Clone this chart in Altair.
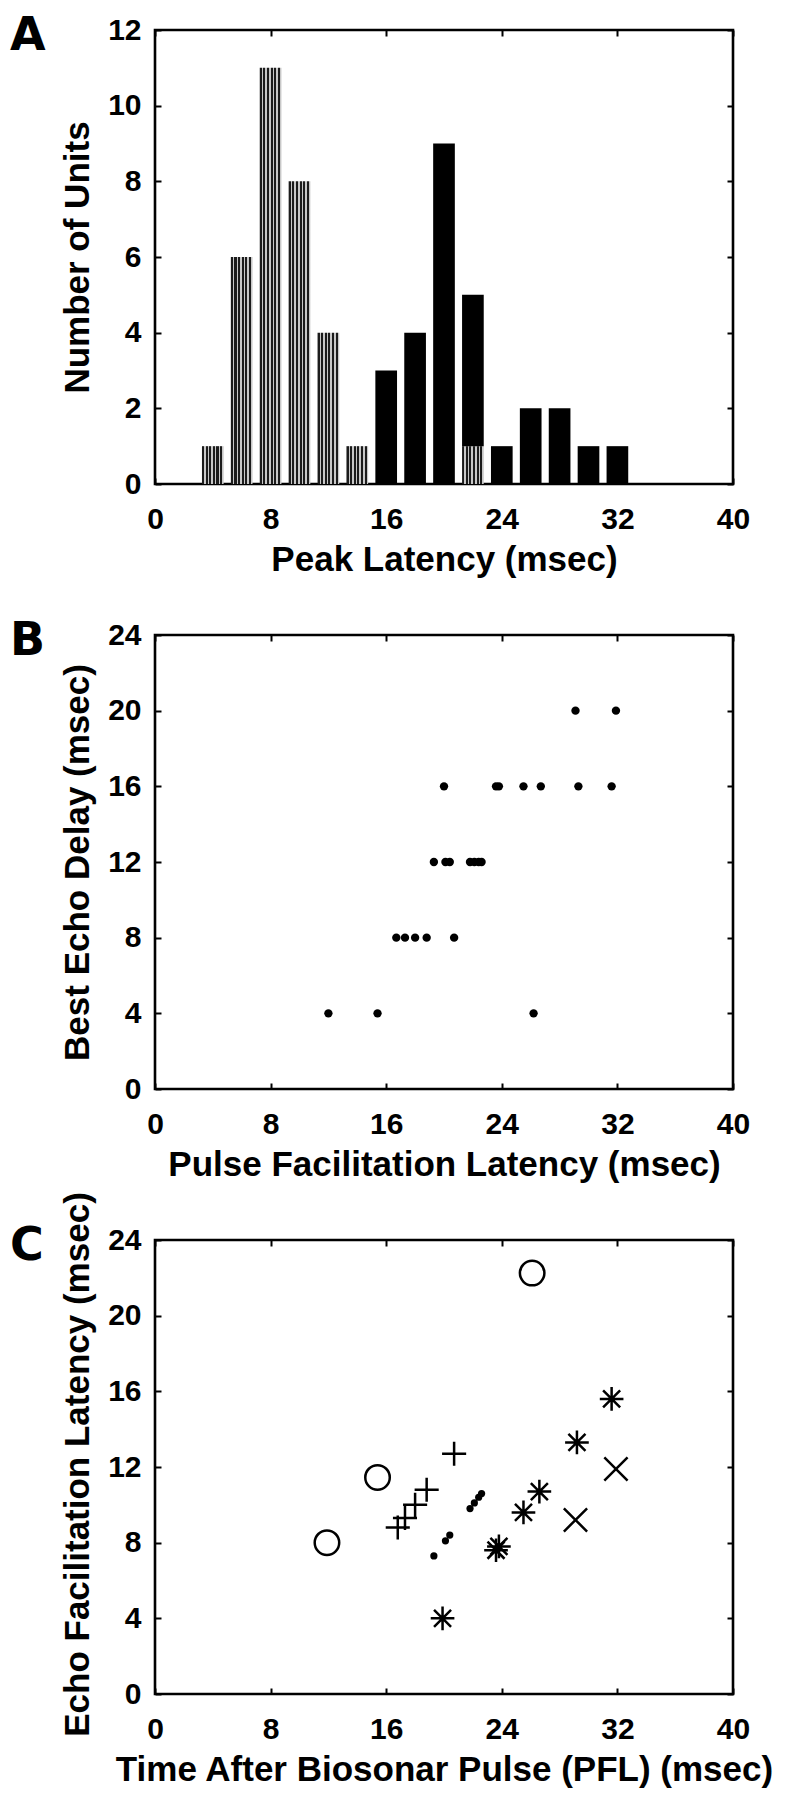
import altair as alt
import pandas as pd

# ---------------- data ----------------
# Panel A: histogram of peak latency, 2-ms bins (centres)
bin_centers = [4, 6, 8, 10, 12, 14, 16, 18, 20, 22, 24, 26, 28, 30, 32]
early_units = [1, 6, 11, 8, 4, 1, 0, 0, 0, 1, 0, 0, 0, 0, 0]   # hatched
late_units = [0, 0, 0, 0, 0, 0, 3, 4, 9, 4, 1, 2, 2, 1, 1]     # black

# Panel B: pulse facilitation latency vs best echo delay
b_pfl = [12.0, 15.4, 26.2,
         16.7, 17.3, 18.0, 18.8, 20.7,
         19.3, 20.1, 20.4, 21.8, 22.1, 22.4, 22.6,
         20.0, 23.6, 23.8, 25.5, 26.7, 29.3, 31.6,
         29.1, 31.9]
b_delay = [4, 4, 4,
           8, 8, 8, 8, 8,
           12, 12, 12, 12, 12, 12, 12,
           16, 16, 16, 16, 16, 16, 16,
           20, 20]

# Panel C: echo facilitation latency vs time after pulse, by marker
c_circle_x = [11.9, 15.4, 26.1]
c_circle_y = [8.0, 11.45, 22.25]
c_plus_x = [16.8, 17.3, 18.0, 18.8, 20.7]
c_plus_y = [8.8, 9.3, 10.0, 10.8, 12.7]
c_dot_x = [19.3, 20.1, 20.4, 21.8, 22.1, 22.4, 22.6]
c_dot_y = [7.3, 8.1, 8.4, 9.8, 10.1, 10.4, 10.6]
c_star_x = [19.9, 23.6, 23.8, 25.5, 26.6, 29.2, 31.6]
c_star_y = [4.0, 7.6, 7.8, 9.6, 10.7, 13.3, 15.6]
c_cross_x = [29.1, 31.9]
c_cross_y = [9.2, 11.9]

x_ticks = [0, 8, 16, 24, 32, 40]
a_y_ticks = [0, 2, 4, 6, 8, 10, 12]
bc_y_ticks = [0, 4, 8, 12, 16, 20, 24]
panel_letters = ["A", "B", "C"]

# ---------------- styling ----------------
W, H = 578, 454
BAR_HALF = 0.75
FONT = "Liberation Sans"
LETTER_FONT = "DejaVu Sans"
TICK = 6

# fine stripe texture standing in for the printed hatch pattern
_stops = []
_n = 6
for i in range(_n):
    a = i / _n
    b = a + 0.58 / _n
    c = (i + 1) / _n
    _stops += [alt.GradientStop(color="#1c1c1c", offset=a),
               alt.GradientStop(color="#1c1c1c", offset=b),
               alt.GradientStop(color="#c8c8c8", offset=b),
               alt.GradientStop(color="#c8c8c8", offset=c)]
HATCH = alt.LinearGradient(gradient="linear", stops=_stops, x1=0, x2=1, y1=0, y2=0)

PLUS = "M-1,0L1,0M0,-1L0,1"
CROSS = "M-1,-1L1,1M-1,1L1,-1"
STAR = "M-1,0L1,0M0,-1L0,1M-0.72,-0.72L0.72,0.72M-0.72,0.72L0.72,-0.72"

xs = alt.Scale(domain=[0, 40], nice=False, zero=False)


def bottom_axis(title):
    return alt.Axis(title=title, values=x_ticks, orient="bottom", offset=-TICK,
                    tickSize=TICK, labelPadding=20, titlePadding=8, labelFlush=False,
                    domain=False, grid=False, format="d")


def left_axis(title, ticks, title_y=None):
    kw = {}
    if title_y is not None:
        kw["titleY"] = title_y
    return alt.Axis(title=title, values=ticks, orient="left", offset=-TICK,
                    tickSize=TICK, labelPadding=14, titlePadding=12, labelFlush=False,
                    domain=False, grid=False, format="d", **kw)


def frame_layer(df, xf, yf, ys, yticks):
    return alt.Chart(df).mark_point(opacity=0).encode(
        x=alt.X(f"{xf}:Q", scale=xs,
                axis=alt.Axis(orient="top", values=x_ticks, labels=False, title=None,
                              offset=-TICK, tickSize=TICK, domain=False, grid=False)),
        y=alt.Y(f"{yf}:Q", scale=ys,
                axis=alt.Axis(orient="right", values=yticks, labels=False, title=None,
                              offset=-TICK, tickSize=TICK, domain=False, grid=False)),
    )


def letter_layer(letter):
    return alt.Chart(pd.DataFrame({"t": [letter]})).mark_text(
        font=LETTER_FONT, fontSize=46, fontWeight="bold", align="left",
        baseline="middle", color="black"
    ).encode(text="t:N", x=alt.value(-145), y=alt.value(6))


# ---------------- panel A ----------------
hist = pd.DataFrame({"center": bin_centers, "early": early_units, "late": late_units})
hist["lo"] = hist["center"] - BAR_HALF
hist["hi"] = hist["center"] + BAR_HALF
early_df = hist[hist["early"] > 0].copy()
early_df["y0"] = 0
early_df["y1"] = early_df["early"]
late_df = hist[hist["late"] > 0].copy()
late_df["y0"] = late_df["early"]
late_df["y1"] = late_df["early"] + late_df["late"]

ys_a = alt.Scale(domain=[0, 12], nice=False)

early_bars = alt.Chart(early_df).mark_rect(fill=HATCH).encode(
    x=alt.X("lo:Q", scale=xs, axis=bottom_axis("Peak Latency (msec)")),
    x2="hi:Q",
    y=alt.Y("y0:Q", scale=ys_a, axis=left_axis("Number of Units", a_y_ticks)),
    y2="y1:Q",
)
late_bars = alt.Chart(late_df).mark_rect(fill="black").encode(
    x=alt.X("lo:Q", scale=xs, axis=None),
    x2="hi:Q",
    y=alt.Y("y0:Q", scale=ys_a, axis=None),
    y2="y1:Q",
)
panel_a = alt.layer(
    early_bars, late_bars, frame_layer(hist, "center", "early", ys_a, a_y_ticks),
    letter_layer(panel_letters[0])
).resolve_axis(x="independent", y="independent").properties(width=W, height=H)

# ---------------- panel B ----------------
ys_bc = alt.Scale(domain=[0, 24], nice=False)
bdf = pd.DataFrame({"pfl": b_pfl, "delay": b_delay})
b_points = alt.Chart(bdf).mark_circle(color="black", opacity=1, size=70).encode(
    x=alt.X("pfl:Q", scale=xs, axis=bottom_axis("Pulse Facilitation Latency (msec)")),
    y=alt.Y("delay:Q", scale=ys_bc, axis=left_axis("Best Echo Delay (msec)", bc_y_ticks)),
)
panel_b = alt.layer(
    b_points, frame_layer(bdf, "pfl", "delay", ys_bc, bc_y_ticks),
    letter_layer(panel_letters[1])
).resolve_axis(x="independent", y="independent").properties(width=W, height=H)

# ---------------- panel C ----------------
rows = []
for name, xsv, ysv in [("circle", c_circle_x, c_circle_y), ("plus", c_plus_x, c_plus_y),
                       ("star", c_star_x, c_star_y), ("cross", c_cross_x, c_cross_y)]:
    for xv, yv in zip(xsv, ysv):
        rows.append({"t": xv, "efl": yv, "kind": name})
cdf = pd.DataFrame(rows)
ddf = pd.DataFrame({"t": c_dot_x, "efl": c_dot_y})

c_symbols = alt.Chart(cdf).mark_point(filled=False, color="black", strokeWidth=2.5, opacity=1).encode(
    x=alt.X("t:Q", scale=xs, axis=bottom_axis("Time After Biosonar Pulse (PFL) (msec)")),
    y=alt.Y("efl:Q", scale=ys_bc,
            axis=left_axis("Echo Facilitation Latency (msec)", bc_y_ticks, title_y=224)),
    shape=alt.Shape("kind:N", scale=alt.Scale(domain=["circle", "plus", "star", "cross"],
                                             range=["circle", PLUS, STAR, CROSS]), legend=None),
    size=alt.Size("kind:N", scale=alt.Scale(domain=["circle", "plus", "star", "cross"],
                                           range=[600, 540, 580, 580]), legend=None),
)
c_dots = alt.Chart(ddf).mark_circle(color="black", opacity=1, size=52).encode(
    x=alt.X("t:Q", scale=xs, axis=None),
    y=alt.Y("efl:Q", scale=ys_bc, axis=None),
)
panel_c = alt.layer(
    c_symbols, c_dots, frame_layer(cdf, "t", "efl", ys_bc, bc_y_ticks),
    letter_layer(panel_letters[2])
).resolve_axis(x="independent", y="independent").properties(width=W, height=H)

chart = alt.vconcat(panel_a, panel_b, panel_c, spacing=151, bounds="flush").properties(
    padding={"left": 0, "top": 3, "right": 0, "bottom": 0}
).configure_view(
    stroke="black", strokeWidth=2.6
).configure_axis(
    labelFont=FONT, labelFontSize=30, labelFontWeight="bold", labelColor="black",
    titleFont=FONT, titleFontSize=35, titleFontWeight="bold", titleColor="black",
    tickColor="black", tickWidth=2,
)

chart.save("out.html", embed_options={"renderer": "svg", "actions": False})
